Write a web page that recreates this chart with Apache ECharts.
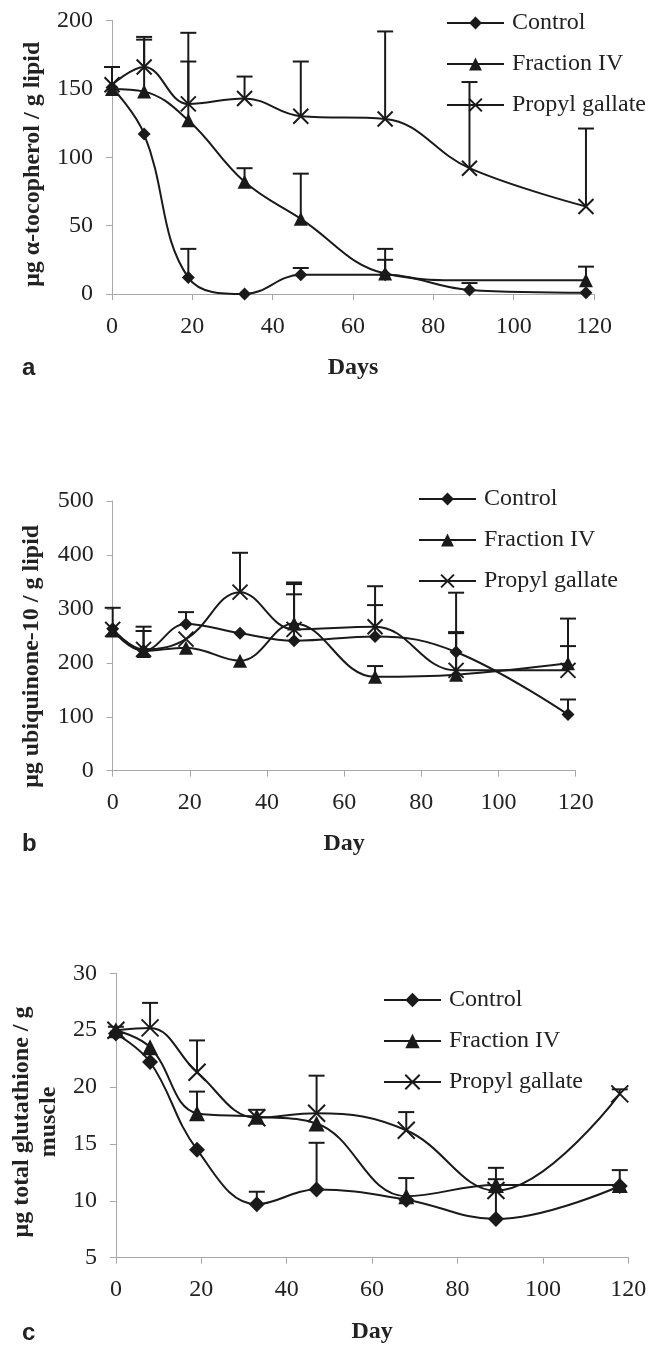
<!DOCTYPE html>
<html><head><meta charset="utf-8">
<script src="https://cdn.jsdelivr.net/npm/echarts@6/dist/echarts.min.js"></script>
<style>html,body{margin:0;padding:0;background:#fff}#c{width:651px;height:1345px}</style>
</head><body><div id="c"></div>
<script>
// ---- data ----
const days = [0, 8, 19, 33, 47, 68, 89, 118];
const seriesNames = ['Control', 'Fraction IV', 'Propyl gallate'];
const panelLabels = ['a', 'b', 'c'];
const xTitles = ['Days', 'Day', 'Day'];
const yTitles = ['μg α-tocopherol / g lipid', 'μg ubiquinone-10 / g lipid', 'μg total glutathione / g\nmuscle'];

// panel a: alpha-tocopherol
const aControl = [151, 117, 12, 0, 14, 14, 3, 1];
const aFraction = [150, 148, 127, 82, 55, 15, 10, 10];
const aPropyl = [153, 166, 139, 143, 130, 128, 92, 64];
const aControlErr = [null, null, 33, null, 19, 25, 8, null];
const aFractionErr = [null, 186, 170, 92, 88, 33, null, 20];
const aPropylErr = [166, 188, 191, 159, 170, 192, 155, 121];

// panel b: ubiquinone-10
const bControl = [263, 223, 272, 255, 241, 249, 220, 104];
const bFraction = [260, 222, 228, 204, 273, 174, 178, 199];
const bPropyl = [262, 225, 244, 331, 262, 267, 186, 186];
const bControlErr = [302, 267, 294, null, 346, 307, 257, 132];
const bFractionErr = [null, 259, null, null, 349, 194, 255, 231];
const bPropylErr = [null, null, null, 404, 327, 342, 330, 282];

// panel c: total glutathione
const cControl = [24.7, 22.2, 14.5, 9.7, 11.0, 10.1, 8.4, 11.3];
const cFraction = [25.0, 23.5, 17.7, 17.4, 16.8, 10.4, 11.4, 11.4];
const cPropyl = [25.0, 25.2, 21.3, 17.3, 17.7, 16.2, 10.9, 19.4];
const cControlErr = [null, null, null, 10.8, 15.1, null, 11.9, null];
const cFractionErr = [null, null, 19.6, null, null, 12.0, null, 12.7];
const cPropylErr = [25.3, 27.4, 24.1, 18.0, 21.0, 17.8, 12.9, 19.8];

// ---- styling / layout ----
const FONT = 'Liberation Serif';
const SANS = 'Liberation Sans';
const INK = '#1a1a1a';
const AXIS = '#a8a8a8';
const X_PATH = 'path://M0,0L10,10M10,0L0,10';

const grids = [
  {left: 112, top: 20.5, width: 482, height: 273.5},
  {left: 112.7, top: 501, width: 463, height: 269.7},
  {left: 112.7, top: 973.3, width: 515.6, height: 284.4}
];
const yRanges = [[0, 200, 50], [0, 500, 100], [5, 30, 5]];
const yNameGap = [64.5, 67, 52];
const yNamePad = [[0, 14, 0, 0], [0, 41, 0, 0], [0, 13, 0, 0]];
const xLabelMargin = [21, 20, 20];
const xNameGap = [62, 61, 62];
const labelTops = [356.4, 832.7, 1321.4];
const legendPos = [[446, 11], [418, 487], [383, 988]];
const legendH = [16, 16, 18];
const symSizes = [[13, 14, 15], [13, 14, 15], [16, 16, 17]];

function errRender(params, api) {
  const x = api.value(0), y = api.value(1), t = api.value(2);
  const p0 = api.coord([x, y]), p1 = api.coord([x, t]);
  const hw = 8;
  return {type: 'group', children: [
    {type: 'line', shape: {x1: p0[0], y1: p0[1], x2: p1[0], y2: p1[1]}, style: {stroke: INK, lineWidth: 2}},
    {type: 'line', shape: {x1: p1[0] - hw, y1: p1[1], x2: p1[0] + hw, y2: p1[1]}, style: {stroke: INK, lineWidth: 2}}
  ]};
}

function lineSeries(name, vals, gi, symbol, size, hideIdx) {
  const isPath = symbol.indexOf('path') === 0;
  return {
    type: 'line', name: name, xAxisIndex: gi, yAxisIndex: gi, smooth: 0.4,
    data: days.map(function (d, i) {
      const item = {value: [d, vals[i]]};
      if (hideIdx && hideIdx.indexOf(i) >= 0) item.symbol = 'none';
      return item;
    }),
    symbol: symbol, symbolSize: size, showAllSymbol: true,
    lineStyle: {color: INK, width: 2},
    itemStyle: isPath ? {color: 'none', borderColor: INK, borderWidth: 2} : {color: INK},
    z: 3, animation: false, emphasis: {disabled: true}, silent: true
  };
}

function errSeries(vals, tops, gi) {
  const pts = [];
  days.forEach(function (d, i) { if (tops[i] != null) pts.push([d, vals[i], tops[i]]); });
  return {type: 'custom', name: 'err' + gi, xAxisIndex: gi, yAxisIndex: gi, data: pts,
    renderItem: errRender, encode: {x: 0, y: [1, 2]}, z: 2, silent: true, animation: false};
}

const panelData = [
  [aControl, aFraction, aPropyl, aControlErr, aFractionErr, aPropylErr, [null, [6], null]],
  [bControl, bFraction, bPropyl, bControlErr, bFractionErr, bPropylErr, [null, null, null]],
  [cControl, cFraction, cPropyl, cControlErr, cFractionErr, cPropylErr, [null, null, null]]
];

const xAxes = [], yAxes = [], series = [], legends = [], titles = [];
const symbols = ['diamond', 'triangle', X_PATH];
for (let g = 0; g < 3; g++) {
  xAxes.push({
    gridIndex: g, type: 'value', min: 0, max: 120, interval: 20,
    axisLine: {show: true, lineStyle: {color: AXIS, width: 1}},
    axisTick: {show: true, length: 6, lineStyle: {color: AXIS}},
    splitLine: {show: false},
    axisLabel: {margin: xLabelMargin[g], color: '#222', fontFamily: FONT, fontSize: 24},
    name: xTitles[g], nameLocation: 'middle', nameGap: xNameGap[g],
    nameTextStyle: {fontFamily: FONT, fontSize: 24, fontWeight: 'bold', color: '#222'}
  });
  yAxes.push({
    gridIndex: g, type: 'value', min: yRanges[g][0], max: yRanges[g][1], interval: yRanges[g][2],
    axisLine: {show: true, lineStyle: {color: AXIS, width: 1}},
    axisTick: {show: true, length: 6, lineStyle: {color: AXIS}},
    splitLine: {show: false},
    axisLabel: {margin: 19, color: '#222', fontFamily: FONT, fontSize: 24},
    name: yTitles[g], nameLocation: 'middle', nameRotate: 90, nameGap: yNameGap[g],
    nameTextStyle: {fontFamily: FONT, fontSize: 24, fontWeight: 'bold', color: '#222',
      lineHeight: 27, padding: yNamePad[g]}
  });
  const pd = panelData[g];
  for (let s = 0; s < 3; s++) {
    series.push(errSeries(pd[s], pd[s + 3], g));
  }
  for (let s = 0; s < 3; s++) {
    series.push(lineSeries(seriesNames[s], pd[s], g, symbols[s], symSizes[g][s], pd[6][s]));
  }
  legends.push({
    data: seriesNames, orient: 'vertical', left: legendPos[g][0], top: legendPos[g][1],
    itemWidth: 57, itemHeight: legendH[g], itemGap: 17, padding: 0, selectedMode: false,
    textStyle: {fontFamily: FONT, fontSize: 24, color: '#222', lineHeight: 24, padding: [0, 0, 0, 3]}
  });
  titles.push({
    text: panelLabels[g], left: 22, top: labelTops[g], padding: 0,
    textStyle: {fontFamily: SANS, fontWeight: 'bold', fontSize: 24, color: '#222'}
  });
}

const chart = echarts.init(document.getElementById('c'), null, {renderer: 'canvas'});
chart.setOption({
  animation: false,
  backgroundColor: '#fff',
  title: titles,
  legend: legends,
  grid: grids,
  xAxis: xAxes,
  yAxis: yAxes,
  series: series
});
</script>
</body></html>
